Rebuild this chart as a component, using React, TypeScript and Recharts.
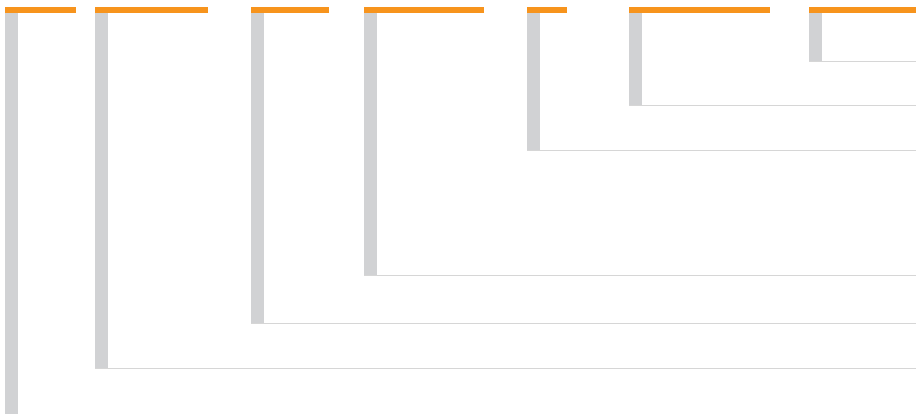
import { ComposedChart, XAxis, YAxis, ReferenceArea, ReferenceLine } from 'recharts';

// each task: where it starts, where its orange span ends, how deep its grey drop goes
const starts = [0, 90, 246, 359, 522, 624, 804];
const ends = [71, 203, 324, 479, 562, 765, 911];
const depths = [412, 361, 316, 268, 143, 98, 54];

const X_MAX = 911;
const Y_MAX = 407;
const CAP = 6; // orange cap thickness, in y units
const DROP_W = 13; // grey drop width, in x units

const ORANGE = '#f7941d';
const GREY = '#d1d2d4';
const RULE = '#d6d6d6';

export default function App() {
  const items = starts.map((s, i) => ({ start: s, end: ends[i], depth: depths[i] }));

  return (
    <div style={{ width: 916, height: 414 }}>
      <style>{`body{margin:0}`}</style>
      <ComposedChart
        width={916}
        height={414}
        data={items}
        margin={{ top: 7, right: 0, bottom: 0, left: 5 }}
      >
        <XAxis type="number" dataKey="start" domain={[0, X_MAX]} allowDataOverflow hide />
        <YAxis type="number" domain={[0, Y_MAX]} reversed allowDataOverflow hide />

        {/* baselines running off to the right */}
        {items.map((d, i) => (
          <ReferenceLine
            key={`l${i}`}
            segment={[
              { x: d.start, y: d.depth },
              { x: X_MAX, y: d.depth },
            ]}
            stroke={RULE}
            strokeWidth={1}
            shapeRendering="crispEdges"
            ifOverflow="hidden"
          />
        ))}

        {/* grey drops */}
        {items.map((d, i) => (
          <ReferenceArea
            key={`g${i}`}
            x1={d.start}
            x2={d.start + DROP_W}
            y1={CAP}
            y2={d.depth}
            fill={GREY}
            fillOpacity={1}
            stroke="none"
            ifOverflow="hidden"
          />
        ))}

        {/* orange caps */}
        {items.map((d, i) => (
          <ReferenceArea
            key={`o${i}`}
            x1={d.start}
            x2={d.end}
            y1={0}
            y2={CAP}
            fill={ORANGE}
            fillOpacity={1}
            stroke="none"
            ifOverflow="hidden"
          />
        ))}
      </ComposedChart>
    </div>
  );
}
